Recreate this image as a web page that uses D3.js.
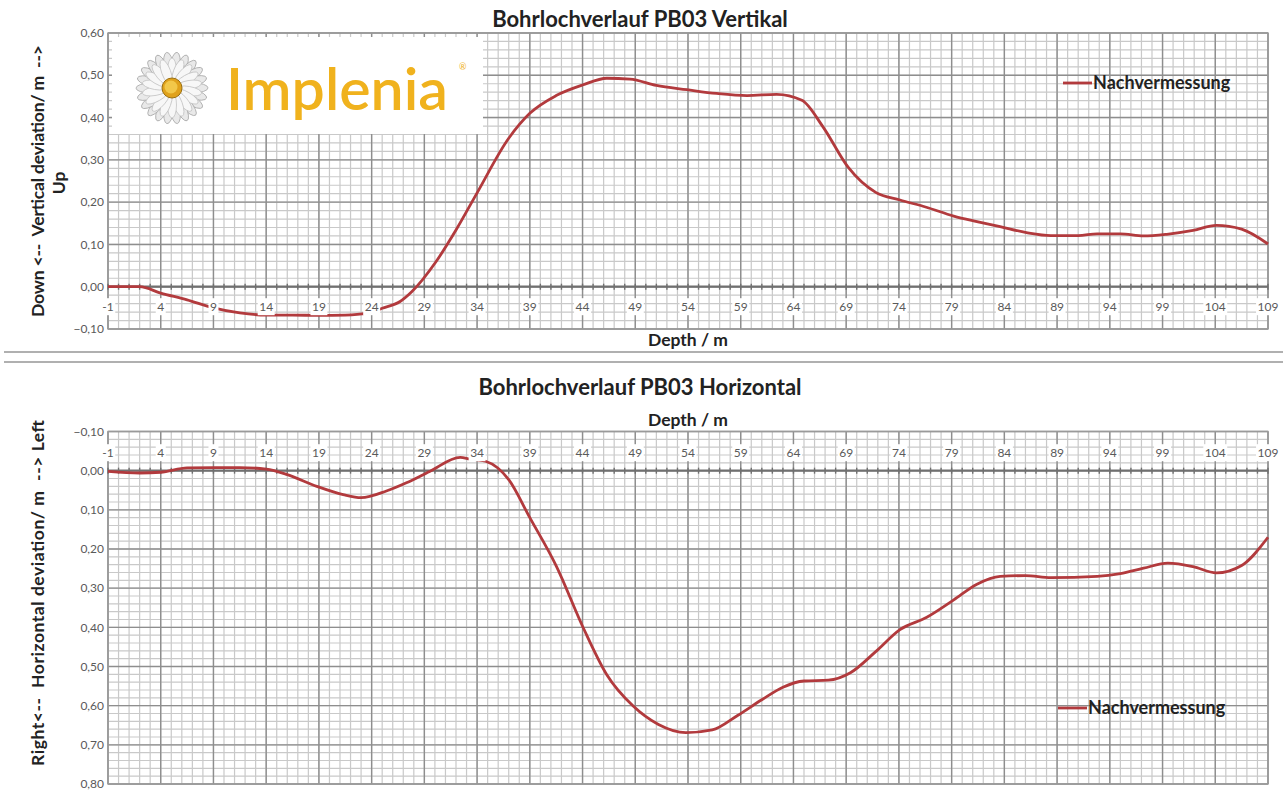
<!DOCTYPE html>
<html><head><meta charset="utf-8">
<script src="https://cdn.jsdelivr.net/npm/d3@7"></script>
<style>html,body{margin:0;padding:0;background:#fff;}svg{display:block;}</style>
</head><body>
<svg id="c" width="1287" height="792"></svg>
<script>
// ---------- data ----------
const depthTicks = [-1, 4, 9, 14, 19, 24, 29, 34, 39, 44, 49, 54, 59, 64, 69, 74, 79, 84, 89, 94, 99, 104, 109];
const vertTicks = [-0.1, 0, 0.1, 0.2, 0.3, 0.4, 0.5, 0.6];
const horTicks = [-0.1, 0, 0.1, 0.2, 0.3, 0.4, 0.5, 0.6, 0.7, 0.8];

const vertDepth = [-1, 2, 4, 6.5, 9, 11.5, 14, 16.5, 19, 21.5, 23.5, 25, 26.7, 27.8, 30.1, 32, 34, 37, 39, 41.5, 44, 46.3, 48.5, 51, 53.9, 56.7, 59.6, 62.4, 64.8, 66.8, 69.2, 71.8, 74.1, 76.6, 79.2, 81.4, 83.6, 86.1, 88.4, 91, 92.8, 95, 97.2, 99.4, 101.9, 104.1, 106.5, 109];
const vertDev = [0, 0, -0.015, -0.031, -0.05, -0.062, -0.067, -0.067, -0.068, -0.067, -0.063, -0.051, -0.035, -0.012, 0.059, 0.134, 0.222, 0.351, 0.41, 0.452, 0.477, 0.493, 0.491, 0.476, 0.466, 0.457, 0.452, 0.455, 0.441, 0.378, 0.282, 0.223, 0.205, 0.188, 0.167, 0.154, 0.142, 0.128, 0.121, 0.121, 0.125, 0.125, 0.12, 0.124, 0.133, 0.145, 0.136, 0.101];

const horDepth = [-1, 2, 4, 6.5, 9, 11.5, 14, 16, 18.8, 21.3, 23, 25.4, 27.3, 29.5, 32.4, 33.3, 34.8, 37, 39, 41.5, 44.1, 46.3, 48.8, 51.2, 53.8, 56.3, 58.7, 61, 63, 65, 67.3, 69.4, 71.8, 74.1, 76.6, 79.2, 81.4, 83.6, 86, 88.4, 92.8, 95, 97.2, 99.5, 101.9, 104.1, 106.5, 109];
const horDev = [0.002, 0.006, 0.004, -0.007, -0.008, -0.008, -0.004, 0.01, 0.04, 0.061, 0.069, 0.052, 0.031, 0.002, -0.034, -0.03, -0.024, 0.023, 0.12, 0.243, 0.403, 0.521, 0.601, 0.648, 0.669, 0.662, 0.625, 0.585, 0.553, 0.537, 0.535, 0.516, 0.462, 0.406, 0.375, 0.33, 0.29, 0.27, 0.268, 0.273, 0.27, 0.263, 0.249, 0.236, 0.245, 0.261, 0.242, 0.17];

const seriesName = "Nachvermessung";

// ---------- drawing ----------
const svg = d3.select("#c");
const FONT = "Lato, 'Open Sans', sans-serif";
const LINE = "#b23a3d";
const fmt = v => d3.format(".2f")(v).replace(".", ",").replace("-0,00", "0,00");

svg.append("rect").attr("width", 1287).attr("height", 792).attr("fill", "#fff");

// divider lines
[352, 362].forEach(y => svg.append("line").attr("x1", 4).attr("x2", 1283).attr("y1", y).attr("y2", y)
  .attr("stroke", "#b0b0b0").attr("stroke-width", 2));

function panel(opts) {
  const x = d3.scaleLinear().domain([-1, 109]).range([108, 1268]);
  const y = d3.scaleLinear().domain(opts.yDomain).range(opts.yRange);
  const g = svg.append("g");
  const [y0, y1] = [Math.min(...opts.yRange), Math.max(...opts.yRange)];

  // minor grid
  const minorX = d3.range(-1, 109.5, 1);
  const minorY = d3.range(Math.round(opts.yDomain[0] * 50), Math.round(opts.yDomain[1] * 50) + 1).map(k => k / 50);
  g.append("g").selectAll("line").data(minorX).join("line")
    .attr("x1", d => x(d)).attr("x2", d => x(d)).attr("y1", y0).attr("y2", y1)
    .attr("stroke", "#c9c9c9").attr("stroke-width", 1.2);
  g.append("g").selectAll("line").data(minorY).join("line")
    .attr("y1", d => y(d)).attr("y2", d => y(d)).attr("x1", 108).attr("x2", 1268)
    .attr("stroke", "#c9c9c9").attr("stroke-width", 1.2);
  // major grid
  g.append("g").selectAll("line").data(depthTicks).join("line")
    .attr("x1", d => x(d)).attr("x2", d => x(d)).attr("y1", y0).attr("y2", y1)
    .attr("stroke", "#8e8e8e").attr("stroke-width", 1.4);
  g.append("g").selectAll("line").data(opts.yTicks).join("line")
    .attr("y1", d => y(d)).attr("y2", d => y(d)).attr("x1", 108).attr("x2", 1268)
    .attr("stroke", "#8e8e8e").attr("stroke-width", 1.4);
  // frame
  g.append("rect").attr("x", 108).attr("y", y0).attr("width", 1160).attr("height", y1 - y0)
    .attr("fill", "none").attr("stroke", "#9a9a9a").attr("stroke-width", 1.4);

  // zero axis with ticks
  g.append("line").attr("x1", 108).attr("x2", 1268).attr("y1", y(0)).attr("y2", y(0))
    .attr("stroke", "#707070").attr("stroke-width", 2.2);
  g.append("g").selectAll("line").data(minorX).join("line")
    .attr("x1", d => x(d)).attr("x2", d => x(d)).attr("y1", y(0) - 3).attr("y2", y(0) + 3)
    .attr("stroke", "#707070").attr("stroke-width", 1.4);

  // y tick labels
  g.append("g").selectAll("text").data(opts.yTicks).join("text")
    .attr("x", 104).attr("y", d => y(d)).attr("dy", "0.35em").attr("text-anchor", "end")
    .attr("font-family", FONT).attr("font-size", 12).attr("fill", "#5a5a5a").text(fmt);

  // series line
  const pts = opts.depth.map((d, i) => [d, opts.values[i]]);
  g.append("path").datum(pts)
    .attr("d", d3.line().x(d => x(d[0])).y(d => y(d[1])).curve(d3.curveMonotoneX))
    .attr("fill", "none").attr("stroke", LINE).attr("stroke-width", 2.8).attr("stroke-linejoin", "round");

  // x tick labels with white boxes
  const xl = g.append("g");
  depthTicks.forEach(d => {
    const t = xl.append("text").attr("x", x(d)).attr("y", opts.xLabelY).attr("dy", "0.35em")
      .attr("text-anchor", "middle").attr("font-family", FONT).attr("font-size", 12)
      .attr("fill", "#5a5a5a").text(d);
    const b = t.node().getBBox();
    xl.insert("rect", () => t.node()).attr("x", b.x - 1.5).attr("y", b.y - 1).attr("width", b.width + 3)
      .attr("height", b.height + 2).attr("fill", "#fff");
  });

  // titles
  svg.append("text").attr("x", 640).attr("y", opts.titleY).attr("text-anchor", "middle")
    .attr("font-family", FONT).attr("font-weight", "bold").attr("font-size", 22).attr("fill", "#222")
    .text(opts.title);
  svg.append("text").attr("x", 688).attr("y", opts.xTitleY).attr("text-anchor", "middle")
    .attr("font-family", FONT).attr("font-weight", "bold").attr("font-size", 17.5).attr("fill", "#222")
    .text("Depth / m");

  // legend
  svg.append("line").attr("x1", opts.legX).attr("x2", opts.legX + 29).attr("y1", opts.legY).attr("y2", opts.legY)
    .attr("stroke", LINE).attr("stroke-width", 2.8);
  svg.append("text").attr("x", opts.legX + 30).attr("y", opts.legY).attr("dy", "0.35em")
    .attr("font-family", FONT).attr("font-weight", "bold").attr("font-size", 18).attr("fill", "#222")
    .text(seriesName);
  return g;
}

panel({
  yDomain: [-0.1, 0.6], yRange: [329, 33], yTicks: vertTicks,
  depth: vertDepth, values: vertDev, xLabelY: 307,
  title: "Bohrlochverlauf PB03 Vertikal", titleY: 27, xTitleY: 346,
  legX: 1063, legY: 83
});
panel({
  yDomain: [-0.1, 0.8], yRange: [431.5, 784], yTicks: horTicks,
  depth: horDepth, values: horDev, xLabelY: 453,
  title: "Bohrlochverlauf PB03 Horizontal", titleY: 395, xTitleY: 426,
  legX: 1058, legY: 708
});

// y-axis titles
function rotText(x, y, txt, len) {
  const t = svg.append("text").attr("transform", `translate(${x},${y}) rotate(-90)`).attr("text-anchor", "middle")
    .attr("font-family", FONT).attr("font-weight", "bold").attr("font-size", 17.5).attr("fill", "#222")
    .attr("xml:space", "preserve").style("white-space", "pre").text(txt);
  if (len) t.attr("textLength", len).attr("lengthAdjust", "spacing");
}
rotText(44, 181, "Down <--  Vertical deviation/ m  -->", 272);
rotText(65, 183, "Up");
rotText(44, 593, "Right<--  Horizontal deviation/ m  --> Left", 346);

// logo
const logo = svg.append("g");
logo.append("rect").attr("x", 112).attr("y", 37).attr("width", 371).attr("height", 97).attr("fill", "#fff");
const flower = logo.append("g").attr("transform", "translate(172,88)");
d3.range(22).forEach(i => {
  flower.append("ellipse").attr("cx", 0).attr("cy", -21).attr("rx", 5).attr("ry", 15)
    .attr("transform", `rotate(${i * 360 / 22 + 8})`).attr("fill", "#e9e9e9").attr("stroke", "#a9a9a9").attr("stroke-width", 0.8);
});
d3.range(18).forEach(i => {
  flower.append("ellipse").attr("cx", 0).attr("cy", -17).attr("rx", 4.5).attr("ry", 13)
    .attr("transform", `rotate(${i * 20})`).attr("fill", "#f7f7f7").attr("stroke", "#bdbdbd").attr("stroke-width", 0.7);
});
flower.append("circle").attr("r", 10).attr("fill", "#e0a21c").attr("stroke", "#9a6f10").attr("stroke-width", 1);
flower.append("circle").attr("r", 6.5).attr("cx", -1).attr("cy", -1).attr("fill", "#f2c84a");
const brand = logo.append("text").attr("x", 226).attr("y", 110).attr("font-family", "Lato, 'Open Sans', sans-serif")
  .attr("font-weight", 600).attr("font-size", 58).attr("fill", "#f0b21d").text("Implenia");
const bw = brand.node().getBBox();
const brandScale = 222 / bw.width;
brand.attr("transform", `translate(226,110) scale(${brandScale},1) translate(-226,-110)`);
logo.append("text").attr("x", 459).attr("y", 70).attr("font-family", FONT).attr("font-size", 9)
  .attr("fill", "#f0b21d").text("®");
</script>
</body></html>
